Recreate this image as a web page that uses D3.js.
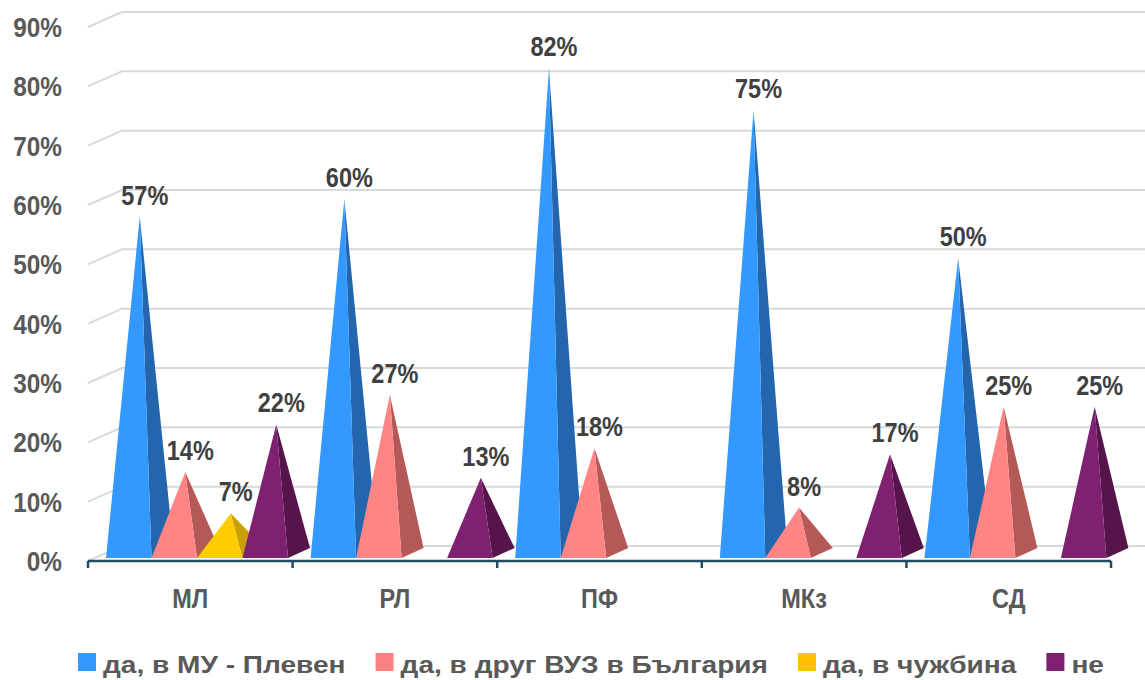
<!DOCTYPE html>
<html>
<head>
<meta charset="utf-8">
<script src="https://cdn.jsdelivr.net/npm/d3@7"></script>
<style>
  body { margin: 0; background: #fff; }
  text { font-family: "Liberation Sans Narrow", "Arial Narrow", "Liberation Sans", sans-serif; font-weight: bold; }
</style>
</head>
<body>
<div id="chart"></div>
<script>
// categories and series
var categories = ["МЛ", "РЛ", "ПФ", "МКз", "СД"];
var seriesNames = ["да, в МУ - Плевен", "да, в друг ВУЗ в България", "да, в чужбина", "не"];
var yTicks = [0, 0.1, 0.2, 0.3, 0.4, 0.5, 0.6, 0.7, 0.8, 0.9];

// values per series, in category order
var muPleven = [0.57, 0.60, 0.82, 0.75, 0.50];
var drugVuz = [0.14, 0.27, 0.18, 0.08, 0.25];
var chuzhbina = [0.07, 0, 0, 0, 0];
var ne = [0.22, 0.13, 0, 0.17, 0.25];

var seriesValues = [muPleven, drugVuz, chuzhbina, ne];
var frontColors = ["#3399ff", "#ff8585", "#ffcc00", "#7f2070"];
var sideColors = ["#2366ad", "#b55858", "#c9a000", "#55154a"];
var legendColors = ["#3399ff", "#ff8080", "#ffc000", "#7f1f6f"];

var W = 1145, H = 680;
var svg = d3.select("#chart").append("svg")
    .attr("width", W).attr("height", H);

// squeeze text horizontally (no narrow font installed)
var sx = 0.84;
function place(sel, fx, fy, k) {
  sel.attr("transform", function(d, i) {
    return "translate(" + fx(d, i) + "," + fy(d, i) + ") scale(" + (k || sx) + ",1)";
  });
}

// front plane scales
var x = d3.scaleBand().domain(categories).range([88, 1111]);
var y = d3.scaleLinear().domain([0, 0.9]).range([561, 27]);

// back wall offset
var wallDx = 34, wallDy = -15;
// pyramid depth
var depDx = 22, depDy = -10;

// gridlines on the back wall, with left wall diagonal
svg.append("g").selectAll("path")
  .data(yTicks)
  .enter().append("path")
    .attr("d", function(d) {
      var yf = y(d);
      return "M" + 88 + "," + yf + "L" + (88 + wallDx) + "," + (yf + wallDy) + "L" + W + "," + (yf + wallDy);
    })
    .attr("fill", "none")
    .attr("stroke", "#d9d9d9")
    .attr("stroke-width", 2);

// y labels
var yl = svg.append("g").selectAll("text")
  .data(yTicks)
  .enter().append("text")
    .attr("text-anchor", "end")
    .attr("font-size", 28)
    .attr("fill", "#595959")
    .text(function(d) { return d3.format(".0%")(d); });
place(yl, function() { return 62; }, function(d) { return y(d) + 10; }, 0.87);

// pyramids
var bw = 45.5, padLeft = 18, baseY = y(0) - 3;
var marks = [];
categories.forEach(function(c, ci) {
  seriesValues.forEach(function(vals, si) {
    if (vals[ci] > 0) marks.push({cat: c, s: si, v: vals[ci]});
  });
});

var g = svg.append("g");
marks.forEach(function(m) {
  var x0 = x(m.cat) + padLeft + m.s * bw, x1 = x0 + bw;
  var ax = (x0 + x1) / 2 + depDx / 2, ay = y(m.v) + depDy / 2 - 1;
  // side face
  g.append("path")
    .attr("d", "M" + x1 + "," + baseY + "L" + (x1 + depDx) + "," + (baseY + depDy) + "L" + ax + "," + ay + "Z")
    .attr("fill", sideColors[m.s]);
  // front face
  g.append("path")
    .attr("d", "M" + x0 + "," + baseY + "L" + x1 + "," + baseY + "L" + ax + "," + ay + "Z")
    .attr("fill", frontColors[m.s]);
  m.ax = ax; m.ay = ay;
});

// x axis
var axis = svg.append("g");
axis.append("line")
  .attr("x1", x.range()[0]).attr("x2", x.range()[1])
  .attr("y1", y(0)).attr("y2", y(0))
  .attr("stroke", "#1f4e60").attr("stroke-width", 2.5);
axis.selectAll(".tick")
  .data(categories.concat(["end"]))
  .enter().append("line")
    .attr("x1", function(d) { return d === "end" ? x.range()[1] : x(d); })
    .attr("x2", function(d) { return d === "end" ? x.range()[1] : x(d); })
    .attr("y1", y(0)).attr("y2", y(0) + 7)
    .attr("stroke", "#1f4e60").attr("stroke-width", 2.5);
var xl = axis.selectAll("text")
  .data(categories)
  .enter().append("text")
    .attr("text-anchor", "middle")
    .attr("font-size", 28)
    .attr("fill", "#595959")
    .text(function(d) { return d; });
place(xl, function(d) { return x(d) + x.bandwidth() / 2; }, function() { return 608; });

// data labels
var dl = svg.append("g").selectAll("text")
  .data(marks)
  .enter().append("text")
    .attr("text-anchor", "middle")
    .attr("font-size", 28)
    .attr("fill", "#404040")
    .text(function(d) { return d3.format(".0%")(d.v); });
place(dl, function(d) { return d.ax + 5; }, function(d) { return d.ay - 12; });

// legend (text is a bit wider than normal in the reference)
var leg = svg.append("g");
var lx = 78, lk = 1.17;
seriesNames.forEach(function(name, i) {
  leg.append("rect")
    .attr("x", lx).attr("y", 653)
    .attr("width", 18).attr("height", 18)
    .attr("fill", legendColors[i]);
  var t = leg.append("text")
    .attr("transform", "translate(" + (lx + 25) + ",673) scale(" + lk + ",1)")
    .attr("font-size", 24)
    .attr("fill", "#595959")
    .text(name);
  lx += 25 + t.node().getComputedTextLength() * lk + 30;
});
</script>
</body>
</html>
